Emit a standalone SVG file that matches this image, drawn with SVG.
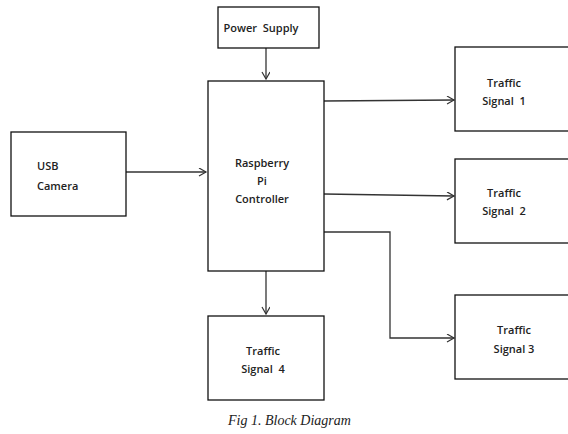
<svg xmlns="http://www.w3.org/2000/svg" width="568" height="434" viewBox="0 0 568 434">
<style>
.box{fill:#fff;stroke:#111;stroke-width:1.3}
.t{font-family:"Open Sans","Liberation Sans",sans-serif;font-size:11px;font-weight:600;fill:#222;text-anchor:middle;white-space:pre}
.c{fill:none;stroke:#333;stroke-width:1.3}
.cap{font-family:"Liberation Serif",serif;font-style:italic;font-size:14px;fill:#222}
</style>
<defs>
<marker id="ah" markerWidth="10" markerHeight="10" refX="8" refY="4" orient="auto" markerUnits="userSpaceOnUse">
<polyline points="1,0 8,4 1,8" fill="none" stroke="#333" stroke-width="1.2"/>
</marker>
</defs>
<rect width="568" height="434" fill="#fff"/>
<g id="connectors">
<line class="c" x1="266" y1="48" x2="266" y2="79" marker-end="url(#ah)"/>
<line class="c" x1="126" y1="172" x2="206" y2="172" marker-end="url(#ah)"/>
<line class="c" x1="324" y1="101" x2="454" y2="100" marker-end="url(#ah)"/>
<line class="c" x1="324" y1="194" x2="454" y2="196" marker-end="url(#ah)"/>
<polyline class="c" points="324,232 390,232 390,338 454,338" marker-end="url(#ah)"/>
<line class="c" x1="266" y1="271" x2="266" y2="314" marker-end="url(#ah)"/>
</g>
<g id="power"><rect class="box" x="218" y="7" width="101" height="41"/><text class="t" x="261" y="32">Power  Supply</text></g>
<g id="usb"><rect class="box" x="11" y="132" width="115" height="84"/><text class="t" x="37" y="170" style="text-anchor:start">USB</text><text class="t" x="37" y="190" style="text-anchor:start">Camera</text></g>
<g id="rpi"><rect class="box" x="208" y="81" width="116" height="190"/><text class="t" x="262" y="167">Raspberry</text><text class="t" x="262" y="185">Pi</text><text class="t" x="262" y="203">Controller</text></g>
<g id="ts1"><rect class="box" x="455" y="47" width="120" height="84"/><text class="t" x="504" y="87">Traffic</text><text class="t" x="504" y="105">Signal  1</text></g>
<g id="ts2"><rect class="box" x="455" y="159" width="120" height="84"/><text class="t" x="504" y="197">Traffic</text><text class="t" x="504" y="215">Signal  2</text></g>
<g id="ts3"><rect class="box" x="455" y="295" width="120" height="84"/><text class="t" x="514" y="334">Traffic</text><text class="t" x="514" y="353">Signal 3</text></g>
<g id="ts4"><rect class="box" x="208" y="316" width="116" height="84"/><text class="t" x="263" y="355">Traffic</text><text class="t" x="263" y="373">Signal  4</text></g>
<text class="cap" x="228" y="425">Fig 1. Block Diagram</text>
</svg>
